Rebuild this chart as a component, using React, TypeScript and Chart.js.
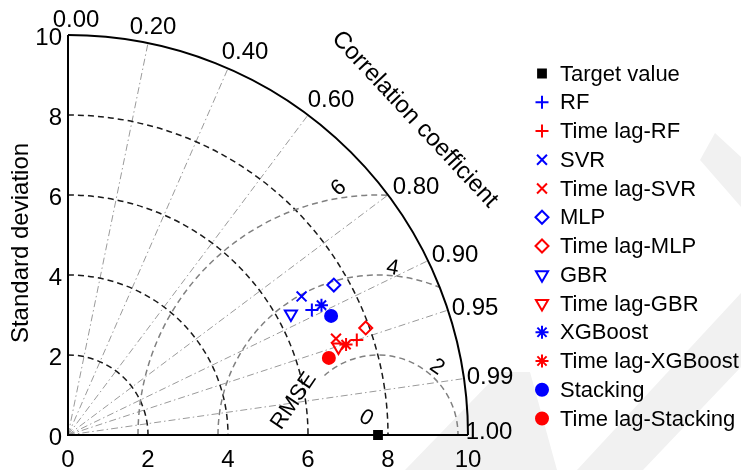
import React, { useEffect, useRef } from "react";
import { Chart, registerables } from "chart.js";
import { drawPoint } from "chart.js/helpers";

Chart.register(...registerables);

// ---------- data ----------
const seriesNames = [
  "Target value",
  "RF",
  "Time lag-RF",
  "SVR",
  "Time lag-SVR",
  "MLP",
  "Time lag-MLP",
  "GBR",
  "Time lag-GBR",
  "XGBoost",
  "Time lag-XGBoost",
  "Stacking",
  "Time lag-Stacking",
];
const stdDev = [7.75, 6.85, 7.6, 6.79, 7.12, 7.63, 7.91, 6.34, 7.11, 7.12, 7.31, 7.22, 6.8];
const correlation = [1.0, 0.89, 0.95, 0.86, 0.941, 0.871, 0.941, 0.879, 0.951, 0.89, 0.951, 0.911, 0.959];
const markerStyles = [
  "rect",
  "cross",
  "cross",
  "crossRot",
  "crossRot",
  "rectRot",
  "rectRot",
  "triangle",
  "triangle",
  "star",
  "star",
  "circle",
  "circle",
];
const markerColors = [
  "#000000",
  "#0000ff",
  "#ff0000",
  "#0000ff",
  "#ff0000",
  "#0000ff",
  "#ff0000",
  "#0000ff",
  "#ff0000",
  "#0000ff",
  "#ff0000",
  "#0000ff",
  "#ff0000",
];
const axisTicks = [0, 2, 4, 6, 8, 10];
const stdArcs = [2, 4, 6, 8];
const rmseLevels = [2, 4, 6];
const rmseLabelValues = [0, 2, 4, 6];
const corrLineValues = [0.2, 0.4, 0.6, 0.8, 0.9, 0.95, 0.99];
const corrTickValues = [0, 0.2, 0.4, 0.6, 0.8, 0.9, 0.95, 0.99, 1.0];
const corrTickLabels = ["0.00", "0.20", "0.40", "0.60", "0.80", "0.90", "0.95", "0.99", "1.00"];
const maxStd = 10;

// ---------- style ----------
const FONT = '"Liberation Sans", Arial, Helvetica, sans-serif';
const markerRadius: Record<string, number> = {
  rect: 5.5,
  cross: 6.5,
  crossRot: 7,
  rectRot: 6.5,
  triangle: 7,
  star: 6.5,
  circle: 6,
};
const filledStyles = ["rect", "circle"];
// label offsets (pixels) relative to the outer-arc point of each correlation tick
const corrLabelShift = [
  [8, -15],
  [5, -16],
  [17, -16],
  [23, -15],
  [28, -8],
  [27, -5],
  [27, -2],
  [26, -1],
  [21, -3],
];
// rmse labels: radial gap from level, polar angle around the target (deg), rotation (deg)
const rmseLabelGap = [0.52, 0.25, 0.19, 0.25];
const rmseLabelAngle = [125, 49, 85, 99];
const rmseLabelRot = [30, 35, 10, -40];

const rad = (d: number) => (d * Math.PI) / 180;

const taylorPlugin = {
  id: "taylor",
  beforeDatasetsDraw(chart: any) {
    const ctx: CanvasRenderingContext2D = chart.ctx;
    const xs = chart.scales.x;
    const ys = chart.scales.y;
    const cx = xs.getPixelForValue(0);
    const cy = ys.getPixelForValue(0);
    const unit = xs.getPixelForValue(1) - cx;
    const R = maxStd * unit;
    const tx = xs.getPixelForValue(stdDev[0] * correlation[0]);

    ctx.save();
    // faint watermark bands
    ctx.fillStyle = "#f1f1f1";
    const bands = [
      [
        [577, 470],
        [741, 293],
        [741, 367],
        [643, 470],
      ],
      [
        [715, 133],
        [741, 157],
        [741, 207],
        [700, 160],
      ],
      [
        [405, 470],
        [500, 372],
        [530, 372],
        [557, 470],
      ],
    ];
    bands.forEach((b) => {
      ctx.beginPath();
      ctx.moveTo(b[0][0], b[0][1]);
      for (let i = 1; i < b.length; i++) ctx.lineTo(b[i][0], b[i][1]);
      ctx.closePath();
      ctx.fill();
    });

    // correlation radial lines (dash-dot)
    ctx.strokeStyle = "#9a9a9a";
    ctx.lineWidth = 1;
    ctx.setLineDash([7, 3, 1.5, 3]);
    corrLineValues.forEach((c) => {
      const a = Math.acos(c);
      ctx.beginPath();
      ctx.moveTo(cx, cy);
      ctx.lineTo(cx + R * Math.cos(a), cy - R * Math.sin(a));
      ctx.stroke();
    });

    // std deviation arcs (black dashed)
    ctx.strokeStyle = "#1a1a1a";
    ctx.lineWidth = 1.5;
    ctx.setLineDash([6, 4]);
    stdArcs.forEach((s) => {
      ctx.beginPath();
      ctx.arc(cx, cy, s * unit, -Math.PI / 2, 0);
      ctx.stroke();
    });

    // RMSE arcs (gray dashed) clipped to the quarter disk
    ctx.save();
    ctx.beginPath();
    ctx.moveTo(cx, cy);
    ctx.arc(cx, cy, R, -Math.PI / 2, 0);
    ctx.closePath();
    ctx.clip();
    ctx.strokeStyle = "#808080";
    ctx.lineWidth = 1.5;
    ctx.setLineDash([6, 4]);
    rmseLevels.forEach((r) => {
      ctx.beginPath();
      const start = r === 2 ? -rad(132) : -Math.PI;
      ctx.arc(tx, cy, r * unit, start, 0);
      ctx.stroke();
    });
    ctx.restore();

    // outer arc and axes
    ctx.setLineDash([]);
    ctx.strokeStyle = "#000";
    ctx.lineWidth = 2;
    ctx.beginPath();
    ctx.arc(cx, cy, R, -Math.PI / 2, 0);
    ctx.stroke();
    ctx.beginPath();
    ctx.moveTo(cx, cy - R);
    ctx.lineTo(cx, cy);
    ctx.lineTo(cx + R, cy);
    ctx.stroke();

    // tick labels
    ctx.fillStyle = "#000";
    ctx.font = `24px ${FONT}`;
    ctx.textBaseline = "middle";
    ctx.textAlign = "center";
    axisTicks.forEach((v) => {
      ctx.fillText(String(v), xs.getPixelForValue(v), cy + 25);
    });
    ctx.textAlign = "right";
    axisTicks.forEach((v) => {
      ctx.fillText(String(v), cx - 6, ys.getPixelForValue(v) + 3);
    });

    // correlation labels
    ctx.textAlign = "center";
    corrTickValues.forEach((c, i) => {
      const a = Math.acos(c);
      const x = cx + R * Math.cos(a) + corrLabelShift[i][0];
      const y = cy - R * Math.sin(a) + corrLabelShift[i][1];
      ctx.fillText(corrTickLabels[i], x, y);
    });

    // titles
    ctx.save();
    ctx.translate(21, 243);
    ctx.rotate(-Math.PI / 2);
    ctx.fillText("Standard deviation", 0, 0);
    ctx.restore();

    ctx.save();
    const ta = rad(42.3);
    ctx.translate(cx + 11.72 * unit * Math.cos(ta), cy - 11.72 * unit * Math.sin(ta));
    ctx.rotate(rad(47));
    ctx.fillText("Correlation coefficient", 0, 0);
    ctx.restore();

    // RMSE labels
    ctx.font = `22px ${FONT}`;
    rmseLabelValues.forEach((v, i) => {
      const r = (v + rmseLabelGap[i]) * unit;
      const a = rad(rmseLabelAngle[i]);
      ctx.save();
      ctx.translate(tx + r * Math.cos(a), cy - r * Math.sin(a));
      ctx.rotate(rad(rmseLabelRot[i]));
      ctx.fillText(String(v), 0, 0);
      ctx.restore();
    });
    ctx.save();
    const ra = rad(158);
    ctx.translate(tx + 2.27 * unit * Math.cos(ra), cy - 2.27 * unit * Math.sin(ra));
    ctx.rotate(-rad(56));
    ctx.fillText("RMSE", 0, 0);
    ctx.restore();

    ctx.restore();
  },
  afterDraw(chart: any) {
    const ctx: CanvasRenderingContext2D = chart.ctx;
    const lx = 542;
    const top = 73.5;
    const step = 28.75;
    ctx.save();
    seriesNames.forEach((name, i) => {
      const y = top + i * step;
      const st = markerStyles[i];
      ctx.strokeStyle = markerColors[i];
      ctx.fillStyle = filledStyles.includes(st) ? markerColors[i] : "rgba(0,0,0,0)";
      ctx.lineWidth = 2;
      ctx.setLineDash([]);
      drawPoint(
        ctx,
        {
          pointStyle: st,
          rotation: st === "triangle" ? 180 : 0,
          radius: markerRadius[st],
          borderWidth: 2,
        } as any,
        lx,
        y
      );
      ctx.fillStyle = "#000";
      ctx.font = `22px ${FONT}`;
      ctx.textAlign = "left";
      ctx.textBaseline = "middle";
      ctx.fillText(name, 560, y + 1);
    });
    ctx.restore();
  },
};

export default function App() {
  const ref = useRef<HTMLCanvasElement>(null);
  useEffect(() => {
    if (!ref.current) return;
    const datasets = seriesNames.map((name, i) => {
      const s = stdDev[i];
      const c = correlation[i];
      const st = markerStyles[i];
      return {
        label: name,
        data: [{ x: s * c, y: s * Math.sqrt(Math.max(0, 1 - c * c)) }],
        pointStyle: st as any,
        rotation: st === "triangle" ? 180 : 0,
        pointRadius: markerRadius[st],
        pointBorderWidth: 2,
        borderColor: markerColors[i],
        pointBorderColor: markerColors[i],
        pointBackgroundColor: filledStyles.includes(st) ? markerColors[i] : "rgba(0,0,0,0)",
        showLine: false,
        clip: false as any,
        order: seriesNames.length - i,
      };
    });
    const chart = new Chart(ref.current, {
      type: "scatter",
      data: { datasets },
      options: {
        animation: false,
        responsive: false,
        devicePixelRatio: 1,
        layout: { padding: { left: 68, right: 273, top: 35, bottom: 35 } },
        scales: {
          x: { type: "linear", min: 0, max: 10, display: false },
          y: { type: "linear", min: 0, max: 10, display: false },
        },
        plugins: {
          legend: { display: false },
          tooltip: { enabled: false },
        },
        events: [],
      },
      plugins: [taylorPlugin],
    });
    return () => chart.destroy();
  }, []);
  return (
    <div style={{ position: "fixed", left: 0, top: 0, width: 741, height: 470, background: "#fff" }}>
      <canvas ref={ref} width={741} height={470} style={{ display: "block", width: 741, height: 470 }} />
    </div>
  );
}
